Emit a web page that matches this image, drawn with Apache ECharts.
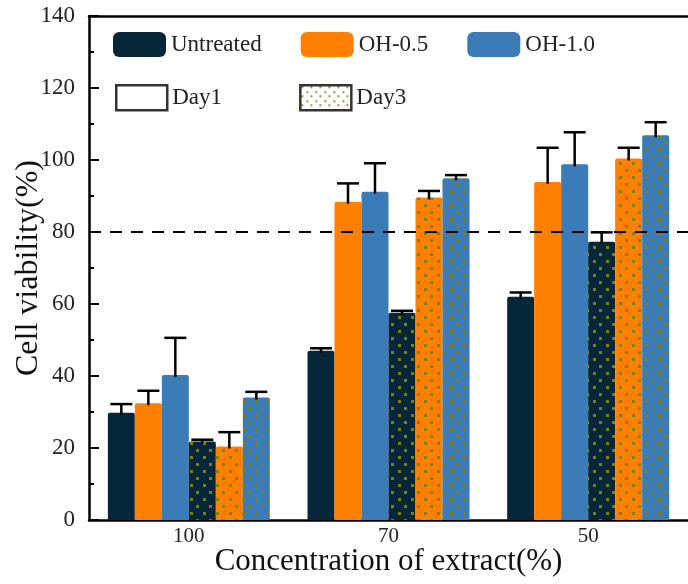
<!DOCTYPE html>
<html>
<head>
<meta charset="utf-8">
<script src="https://cdn.jsdelivr.net/npm/echarts@6/dist/echarts.min.js"></script>
<style>html,body{margin:0;padding:0;background:#fff}#c{width:688px;height:584px}</style>
</head>
<body>
<div id="c"></div>
<script>
// ---- data ----
const categories = ['100', '70', '50'];
const untreatedDay1 = [29.8, 47.0, 62.0];
const oh05Day1 = [32.4, 88.4, 93.9];
const oh10Day1 = [40.3, 91.2, 98.8];
const untreatedDay3 = [21.8, 57.6, 77.3];
const oh05Day3 = [20.4, 89.6, 100.4];
const oh10Day3 = [34.0, 94.9, 106.9];
const untreatedDay1Err = [2.4, 0.7, 1.2];
const oh05Day1Err = [3.5, 5.1, 9.5];
const oh10Day1Err = [10.3, 7.9, 8.9];
const untreatedDay3Err = [0.5, 0.5, 2.6];
const oh05Day3Err = [4.0, 1.8, 3.0];
const oh10Day3Err = [1.6, 0.9, 3.6];
const yTicks = [0, 20, 40, 60, 80, 100, 120, 140];
const thresholdValue = 80;

// ---- style ----
const FONT = 'Liberation Serif';
const C_UNT = '#06263a', C_05 = '#ff7f00', C_10 = '#3b7bb8', DOT = '#7f7f10';
const BAR_W = 27;

function pattern(bg, sx, sy, ds) {
  const cv = document.createElement('canvas');
  cv.width = sx; cv.height = sy;
  const ctx = cv.getContext('2d');
  ctx.fillStyle = bg; ctx.fillRect(0, 0, sx, sy);
  ctx.fillStyle = DOT;
  ctx.fillRect(1, 1, ds, ds);
  ctx.fillRect(Math.round(sx / 2) + 1, Math.round(sy / 2) + 1, ds, ds);
  return { image: cv, repeat: 'repeat' };
}

const barDefs = [
  { name: 'Untreated', data: untreatedDay1, err: untreatedDay1Err, color: C_UNT },
  { name: 'OH-0.5', data: oh05Day1, err: oh05Day1Err, color: C_05 },
  { name: 'OH-1.0', data: oh10Day1, err: oh10Day1Err, color: C_10 },
  { name: 'Untreated Day3', data: untreatedDay3, err: untreatedDay3Err, color: pattern(C_UNT, 13, 14, 3) },
  { name: 'OH-0.5 Day3', data: oh05Day3, err: oh05Day3Err, color: pattern(C_05, 13, 14, 3) },
  { name: 'OH-1.0 Day3', data: oh10Day3, err: oh10Day3Err, color: pattern(C_10, 13, 14, 3) }
];

const series = [];
barDefs.forEach((b, j) => {
  const s = {
    type: 'bar', name: b.name, data: b.data, barWidth: BAR_W, barGap: '0%',
    itemStyle: { color: b.color, borderRadius: [2, 2, 0, 0] },
    emphasis: { disabled: true }, z: 2
  };
  if (j === 0) {
    s.markLine = {
      silent: true, symbol: 'none', label: { show: false },
      lineStyle: { color: '#000', type: [12, 9], width: 2 },
      data: [{ yAxis: thresholdValue }]
    };
  }
  series.push(s);
});
barDefs.forEach((b, j) => {
  series.push({
    type: 'custom', name: b.name + ' err', z: 5, silent: true,
    data: categories.map((c, i) => [i, b.data[i], b.data[i] + b.err[i]]),
    renderItem: function (params, api) {
      const base = api.coord([api.value(0), api.value(1)]);
      const top = api.coord([api.value(0), api.value(2)]);
      const x = base[0] + (j - 2.5) * BAR_W;
      const st = { stroke: '#000', lineWidth: 2.5 };
      return {
        type: 'group', children: [
          { type: 'line', shape: { x1: x, y1: base[1] + 2, x2: x, y2: top[1] }, style: st },
          { type: 'line', shape: { x1: x - 11, y1: top[1], x2: x + 11, y2: top[1] }, style: st }
        ]
      };
    }
  });
});
series.push({ type: 'scatter', name: 'Day1', data: [] });
series.push({ type: 'scatter', name: 'Day3', data: [] });

const legendText = { fontFamily: FONT, fontSize: 23, color: '#222' };
const option = {
  animation: false,
  backgroundColor: '#fff',
  grid: { left: 89, top: 16, right: 0, bottom: 64, containLabel: false, outerBoundsMode: 'none' },
  legend: [
    {
      left: 113, top: 32, padding: 0, itemWidth: 53, itemHeight: 25, itemGap: 39, selectedMode: false,
      textStyle: legendText,
      data: [
        { name: 'Untreated', icon: 'roundRect' },
        { name: 'OH-0.5', icon: 'roundRect' },
        { name: 'OH-1.0', icon: 'roundRect' }
      ]
    },
    {
      left: 115, top: 84, padding: 0, itemWidth: 51, itemHeight: 25, itemGap: 77, selectedMode: false,
      textStyle: legendText,
      data: [
        { name: 'Day1', icon: 'rect', itemStyle: { color: '#fff', borderColor: '#000', borderWidth: 2.5 } },
        { name: 'Day3', icon: 'rect', itemStyle: { color: pattern('#fff', 9, 9, 2), borderColor: '#000', borderWidth: 2.5 } }
      ]
    }
  ],
  xAxis: [
    {
      type: 'category', data: categories, position: 'bottom',
      axisLine: { lineStyle: { color: '#000', width: 2.5 } },
      axisTick: { show: false },
      axisLabel: { fontFamily: FONT, fontSize: 21, color: '#222', margin: 6 },
      name: 'Concentration of extract(%)', nameLocation: 'middle', nameGap: 26, nameMoveOverlap: false,
      nameTextStyle: { fontFamily: FONT, fontSize: 31, color: '#111' }
    },
    {
      type: 'category', data: categories, position: 'top',
      axisLine: { lineStyle: { color: '#000', width: 2.5 } },
      axisTick: { show: false }, axisLabel: { show: false }
    }
  ],
  yAxis: {
    type: 'value', min: yTicks[0], max: yTicks[yTicks.length - 1], interval: 20,
    axisLine: { show: true, lineStyle: { color: '#000', width: 2.5 } },
    axisTick: { show: true, inside: true, length: 10, lineStyle: { color: '#000', width: 2 } },
    minorTick: { show: true, splitNumber: 2, length: 5, lineStyle: { color: '#000', width: 2 } },
    splitLine: { show: false },
    axisLabel: { fontFamily: FONT, fontSize: 23, color: '#222', margin: 14 },
    name: 'Cell viability(%)', nameLocation: 'middle', nameGap: 44, nameMoveOverlap: false,
    nameTextStyle: { fontFamily: FONT, fontSize: 32, color: '#111' }
  },
  series: series
};
const chart = echarts.init(document.getElementById('c'), null, { renderer: 'canvas' });
chart.setOption(option);
</script>
</body>
</html>
